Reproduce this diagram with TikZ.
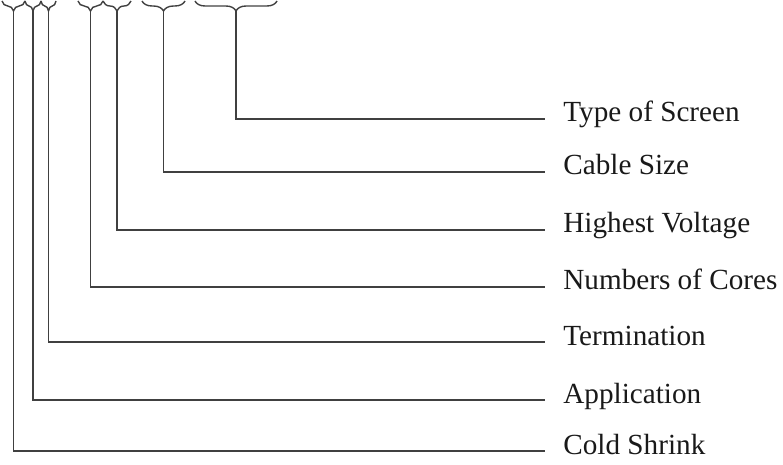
\documentclass[tikz,border=0pt]{standalone}
\usepackage{fontspec}
\setmainfont{Liberation Serif}
\usetikzlibrary{decorations.pathreplacing}

\begin{document}
\begin{tikzpicture}[x=0.5pt,y=-0.5pt]

\tikzstyle{part}=[draw=black!75,line width=0.7pt]
\tikzstyle{curly}=[draw=black!75,line width=0.7pt,decorate,decoration={brace,mirror,amplitude=5pt}]
\tikzstyle{label}=[anchor=base west,inner xsep=9pt,inner ysep=0pt,font=\fontsize{14.6}{17}\selectfont,text=black!90]

\clip (0,0) rectangle (783,465);

% braces over the code letters
\draw[curly] (2,1) -- (25,1);
\draw[curly] (25,1) -- (41,1);
\draw[curly] (41,1) -- (56,1);
\draw[curly] (78,1) -- (103,1);
\draw[curly] (103,1) -- (131,1);
\draw[curly] (142,1) -- (185,1);
\draw[curly] (195,1) -- (277,1);

\coordinate (shrink) at (13.5,11);
\coordinate (appl) at (33,11);
\coordinate (term) at (48.5,11);
\coordinate (cores) at (90.5,11);
\coordinate (volt) at (117,11);
\coordinate (size) at (163.5,11);
\coordinate (screen) at (236,11);

\node[label] (lscreen) at (545,122) {Type of Screen};
\node[label] (lsize) at (545,175) {Cable Size};
\node[label] (lvolt) at (545,233) {Highest Voltage};
\node[label] (lcores) at (545,290) {Numbers of Cores};
\node[label] (lterm) at (545,345) {Termination};
\node[label] (lappl) at (545,403) {Application};
\node[label] (lshrink) at (545,454) {Cold Shrink};

\draw[part] (screen) |- ([yshift=1.5pt]lscreen.base west);
\draw[part] (size) |- ([yshift=1.5pt]lsize.base west);
\draw[part] (volt) |- ([yshift=1.5pt]lvolt.base west);
\draw[part] (cores) |- ([yshift=1.5pt]lcores.base west);
\draw[part] (term) |- ([yshift=1.5pt]lterm.base west);
\draw[part] (appl) |- ([yshift=1.5pt]lappl.base west);
\draw[part] (shrink) |- ([yshift=1.5pt]lshrink.base west);
\end{tikzpicture}
\end{document}
